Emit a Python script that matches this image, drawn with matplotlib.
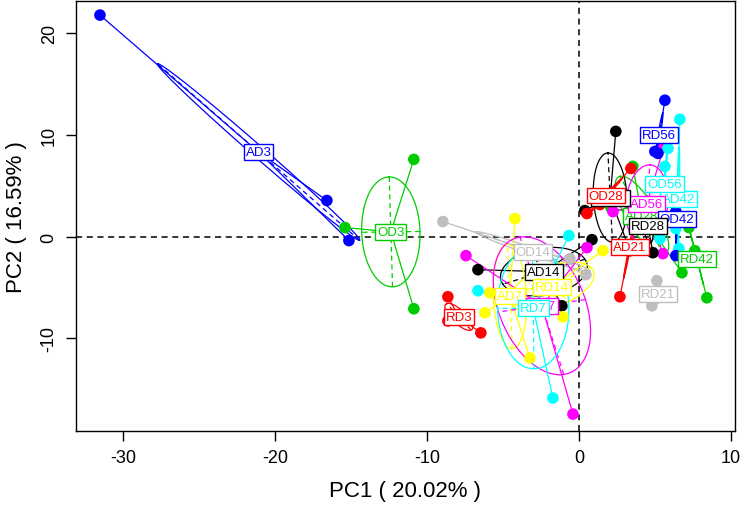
import numpy as np
import matplotlib
matplotlib.use('Agg')
import matplotlib.pyplot as plt

plt.rcParams['font.family'] = ['Liberation Sans', 'DejaVu Sans']
plt.rcParams['axes.unicode_minus'] = False

# group names and colours (R palette 1:8 recycled over the sorted levels)
groups = ['AD14', 'AD21', 'AD28', 'AD3', 'AD42', 'AD56', 'AD7',
          'OD14', 'OD21', 'OD28', 'OD3', 'OD42', 'OD56', 'OD7',
          'RD14', 'RD21', 'RD28', 'RD3', 'RD42', 'RD56', 'RD7']
palette = ['black', 'red', '#00CD00', 'blue', 'cyan', 'magenta', 'yellow', '#BEBEBE']

# PC scores for each sample, per group
pc1 = {
    'AD3': [-31.51, -16.58, -15.13], 'OD3': [-10.86, -15.39, -10.86], 'RD3': [-8.62, -6.45, -8.62],
    'AD7': [-4.21, -6.18, -3.22], 'OD7': [-7.43, -0.39, 0.53], 'RD7': [-6.64, -0.66, -1.71],
    'AD14': [-6.64, 0.86, -1.12], 'OD14': [-8.95, -0.59, 0.46], 'RD14': [1.58, -1.05, -5.86],
    'AD21': [2.70, 3.62, 3.75], 'OD21': [2.43, 0.39, 3.36], 'RD21': [5.13, 4.80, 5.66],
    'AD28': [3.55, 6.78, 2.11], 'OD28': [3.42, 0.53, 1.38], 'RD28': [4.87, 4.01, 4.74],
    'AD42': [6.64, 6.58, 6.38], 'OD42': [6.38, 6.58, 6.38], 'RD42': [8.42, 7.63, 7.24],
    'AD56': [5.59, 2.24, 5.53], 'OD56': [5.66, 5.86, 5.33], 'RD56': [5.66, 5.00, 5.20],
}
pc2 = {
    'AD3': [21.77, 3.55, -0.39], 'OD3': [7.59, 0.89, -7.09], 'RD3': [-5.91, -9.46, -8.28],
    'AD7': [1.77, -7.49, -11.92], 'OD7': [-1.87, -17.44, -1.08], 'RD7': [-5.32, 0.10, -15.86],
    'AD14': [-3.25, -0.30, -6.80], 'OD14': [1.48, -2.17, -3.74], 'RD14': [-1.38, -7.88, -5.52],
    'AD21': [-5.91, 1.58, 1.38], 'OD21': [10.34, 2.56, -1.38], 'RD21': [-4.33, -6.80, -5.91],
    'AD28': [6.90, -3.55, 2.86], 'OD28': [6.70, 2.27, 3.15], 'RD28': [-1.58, 1.97, 2.86],
    'AD42': [11.53, -1.18, 0.79], 'OD42': [-1.87, 4.73, 2.46], 'RD42': [-6.01, -1.38, 0.89],
    'AD56': [8.77, 2.46, -1.67], 'OD56': [6.90, 8.67, -0.20], 'RD56': [13.40, 8.37, 8.18],
}

fig = plt.figure(figsize=(7.43, 5.10), dpi=100)
ax = fig.add_axes([0.102, 0.153, 0.887, 0.843])

ax.axhline(0, color='black', ls=(0, (4, 3)), lw=1.1, zorder=1)
ax.axvline(0, color='black', ls=(0, (4, 3)), lw=1.1, zorder=1)

cellipse = 0.9
for i, g in enumerate(groups):
    col = palette[i % 8]
    x = np.array(pc1[g])
    y = np.array(pc2[g])
    cx, cy = x.mean(), y.mean()
    # stars from the centroid
    for xi, yi in zip(x, y):
        ax.plot([cx, xi], [cy, yi], color=col, lw=0.9, zorder=2)
    ax.scatter(x, y, s=70, color=col, zorder=3, edgecolors='none')
    # ellipse from covariance
    cov = np.cov(np.vstack([x, y]), bias=True)
    vals, vecs = np.linalg.eigh(cov)
    vals = np.clip(vals, 0, None)
    order = vals.argsort()[::-1]
    vals, vecs = vals[order], vecs[:, order]
    a = cellipse * np.sqrt(vals[0])
    b = cellipse * np.sqrt(vals[1])
    t = np.linspace(0, 2 * np.pi, 200)
    ex = cx + a * np.cos(t) * vecs[0, 0] + b * np.sin(t) * vecs[0, 1]
    ey = cy + a * np.cos(t) * vecs[1, 0] + b * np.sin(t) * vecs[1, 1]
    ax.plot(ex, ey, color=col, lw=0.9, zorder=2)
    for k, r in enumerate([a, b]):
        ax.plot([cx - r * vecs[0, k], cx + r * vecs[0, k]],
                [cy - r * vecs[1, k], cy + r * vecs[1, k]],
                color=col, lw=0.9, ls=(0, (4, 3)), zorder=2)
    ax.text(cx, cy, g, color=col, fontsize=9.5, ha='center', va='center', zorder=4,
            bbox=dict(boxstyle='square,pad=0.15', fc='white', ec=col, lw=1))

ax.set_xlim(-33.1, 10.26)
ax.set_ylim(-19.1, 23.15)
ax.set_xticks([-30, -20, -10, 0, 10])
ax.set_yticks([-10, 0, 10, 20])
ax.tick_params(axis='both', labelsize=13, length=7, width=1, direction='out', pad=6)
for lab in ax.get_yticklabels():
    lab.set_rotation(90)
    lab.set_va('center')
for s in ax.spines.values():
    s.set_linewidth(1)

ax.set_xlabel('PC1 ( 20.02% )', fontsize=16, labelpad=10)
ax.set_ylabel('PC2 ( 16.59% )', fontsize=16, labelpad=10)

plt.savefig('out.png', dpi=100)
